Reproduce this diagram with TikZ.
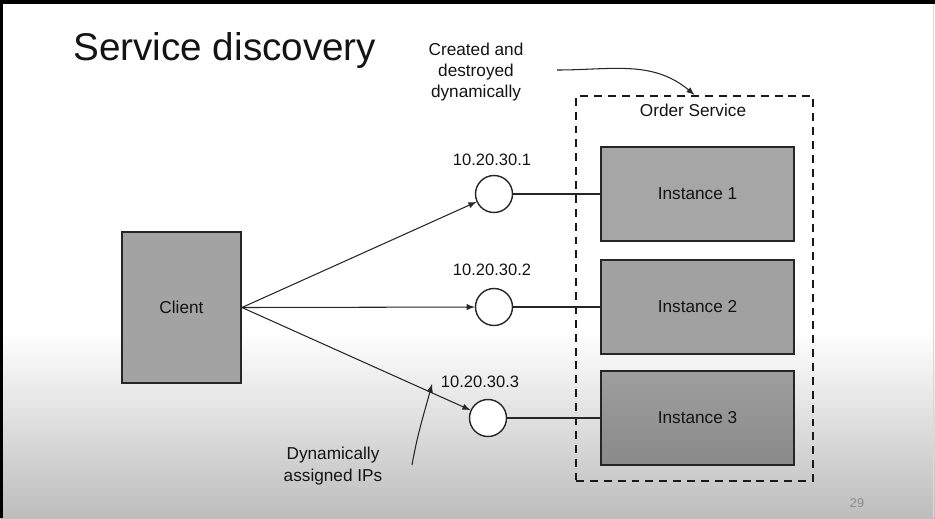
\documentclass[tikz,border=0pt]{standalone}
\usepackage{fontspec}
\setmainfont{Liberation Sans}
\usetikzlibrary{arrows}

\begin{document}
\begin{tikzpicture}[x=0.02cm, y=-0.02cm, >=latex]
\tikzset{every node/.style={font=\fontsize{9.8}{12.2}\selectfont, align=center, text=black!92}}
\tikzset{box/.style={draw=black!85, line width=1.1pt, fill=black!36}}
\tikzset{instbox/.style={box, minimum width=3.86cm, minimum height=1.88cm}}
\tikzset{ipnode/.style={circle, draw=black!85, fill=white, line width=0.8pt, minimum size=0.74cm, inner sep=0pt}}
\tikzset{iplabel/.style={font=\fontsize{9.4}{11}\selectfont}}
\tikzset{wire/.style={black!85, line width=0.6pt}}

% slide background
\useasboundingbox (0,0) rectangle (935,518);
\fill[white] (0,0) rectangle (935,518);
\shade[top color=white, bottom color=black!26] (0,330) rectangle (935,518);
\fill[black] (0,0) rectangle (935,4);
\fill[black] (0,0) rectangle (3,518);
\draw[black!15] (933.5,4) -- (933.5,518);

\node[anchor=base west, inner sep=0pt, font=\fontsize{22}{26}\selectfont] (title) at (73,60) {Service discovery};

\node[box, minimum width=2.38cm, minimum height=3.02cm] (client) at (181.5,307.5) {Client};

\node[draw=black!90, line width=1.3pt, dash pattern=on 4.5pt off 3.4pt, minimum width=4.74cm, minimum height=7.7cm] (svc) at (694.5,288.5) {};
\node (svclabel) at (693,110) {Order Service};

\node[instbox, fill=black!35] (inst1) at (697.5,194) {Instance 1};
\node[instbox, fill=black!37] (inst2) at (697.5,307) {Instance 2};
\node[instbox, top color=black!38, bottom color=black!46] (inst3) at (697.5,418) {Instance 3};

\node[ipnode] (ip1) at (494,194) {};
\node[ipnode] (ip2) at (494,307) {};
\node[ipnode] (ip3) at (488,418) {};
\node[iplabel] (ipl1) at (492,160) {10.20.30.1};
\node[iplabel] (ipl2) at (492,270) {10.20.30.2};
\node[iplabel] (ipl3) at (480,382) {10.20.30.3};

\draw[wire] (ip1) -- (inst1);
\draw[wire] (ip2) -- (inst2);
\draw[wire] (ip3) -- (inst3);

\draw[wire, ->] (client.east) -- (ip1);
\draw[wire, ->] (client.east) -- (ip2);
\draw[wire, ->] (client.east) -- (ip3);

% notes
\node (created) at (476,72) {Created and\\destroyed\\dynamically};
\coordinate (c1) at (557,70);
\draw[wire, ->] (c1) to[out=0, in=140] (svc.north);

\node (assigned) at (333,466) {Dynamically\\assigned IPs};
\coordinate (c2) at (412,465);
\coordinate (c3) at (432,384);
\draw[wire, ->] (c2) to[out=80, in=-105] (c3);

\node[text=black!45, font=\fontsize{7.2}{9}\selectfont] (pagenum) at (857,503) {29};
\end{tikzpicture}
\end{document}
